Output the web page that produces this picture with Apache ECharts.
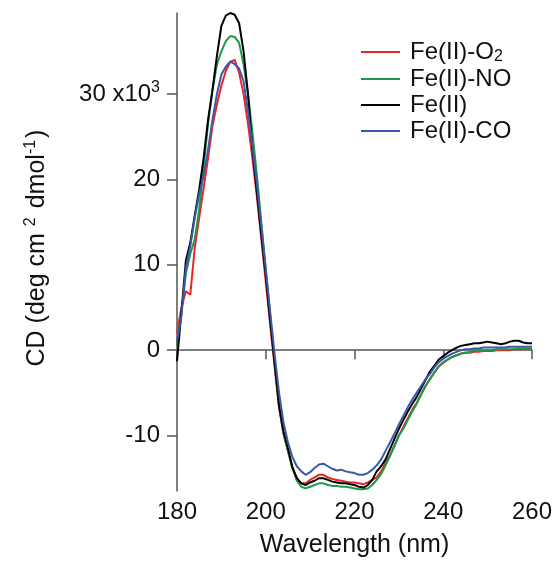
<!DOCTYPE html>
<html>
<head>
<meta charset="utf-8">
<script src="https://cdn.jsdelivr.net/npm/echarts@6/dist/echarts.min.js"></script>
<style>html,body{margin:0;padding:0;background:#fff}#c{width:559px;height:571px}</style>
</head>
<body>
<div id="c"></div>
<script>
// Wavelength (nm)
var wavelength = [180,181,182,183,184,185,186,187,188,189,190,191,192,193,194,195,196,197,198,199,
200,201,202,203,204,205,206,207,208,209,210,211,212,213,214,215,216,217,218,219,
220,221,222,223,224,225,226,227,228,229,230,231,232,233,234,235,236,237,238,239,
240,241,242,243,244,245,246,247,248,249,250,251,252,253,254,255,256,257,258,259,260];

// CD (x10^3 deg cm^2 dmol^-1)
var feO2 = [2.0,5.0,6.9,6.5,12.0,15.5,19.0,22.5,26.3,28.8,31.0,32.7,33.8,34.0,32.5,30.0,26.5,22.5,18.0,13.0,
8.0,3.0,-2.0,-6.8,-9.8,-11.8,-13.8,-15.0,-15.6,-15.6,-15.2,-14.9,-14.6,-14.6,-14.9,-15.1,-15.2,-15.3,-15.4,-15.5,
-15.5,-15.6,-15.7,-15.5,-15.2,-14.9,-14.2,-13.2,-12.3,-11.2,-10.0,-9.0,-8.0,-7.0,-6.2,-5.2,-4.2,-3.4,-2.6,-1.9,
-1.5,-1.1,-0.8,-0.6,-0.4,-0.3,-0.3,-0.2,-0.2,-0.1,-0.1,-0.1,0.0,0.0,0.0,0.0,0.1,0.1,0.1,0.1,0.1];

var feNO = [0.5,4.5,9.0,11.3,13.0,16.5,21.5,26.5,30.5,33.5,35.0,36.2,36.8,36.7,36.0,33.5,30.0,25.5,20.5,15.0,
9.5,4.0,-1.5,-6.5,-9.8,-11.8,-13.8,-15.3,-16.0,-16.2,-16.0,-15.8,-15.6,-15.6,-15.8,-15.9,-15.9,-16.0,-16.0,-16.1,
-16.2,-16.3,-16.3,-16.2,-15.8,-15.2,-14.5,-13.5,-12.4,-11.2,-10.0,-9.2,-8.2,-7.2,-6.3,-5.2,-4.2,-3.4,-2.6,-1.9,
-1.4,-1.1,-0.8,-0.6,-0.4,-0.3,-0.2,-0.1,-0.1,0.0,0.0,0.0,0.1,0.1,0.1,0.1,0.1,0.2,0.2,0.2,0.2];

var feII = [-1.3,4.5,10.5,12.6,15.8,18.8,22.5,27.0,30.5,34.5,38.0,39.2,39.5,39.3,38.3,35.0,30.0,23.5,18.5,13.5,
8.8,3.5,-1.5,-6.5,-9.5,-11.5,-13.7,-15.0,-15.6,-15.8,-15.5,-15.3,-15.0,-15.0,-15.2,-15.4,-15.5,-15.6,-15.6,-15.7,
-15.8,-16.0,-16.1,-15.8,-15.2,-14.2,-13.6,-12.8,-11.6,-10.4,-9.2,-8.2,-7.2,-6.3,-5.5,-4.5,-3.5,-2.5,-1.8,-1.1,
-0.7,-0.3,0.0,0.3,0.5,0.6,0.7,0.8,0.8,0.9,1.0,0.9,0.8,0.7,0.8,1.0,1.1,1.1,0.9,0.8,0.8];

var feCO = [1.0,4.0,9.6,12.2,15.5,18.3,20.4,23.5,27.0,30.0,32.3,33.2,33.8,33.5,33.0,31.5,28.0,23.9,19.5,14.5,
9.5,4.5,-0.5,-5.0,-8.5,-10.8,-12.5,-13.6,-14.2,-14.6,-14.3,-13.8,-13.4,-13.3,-13.6,-13.9,-14.1,-14.0,-14.2,-14.3,
-14.4,-14.6,-14.6,-14.4,-14.0,-13.5,-12.8,-11.8,-10.8,-9.8,-8.7,-7.7,-6.7,-5.8,-5.0,-4.2,-3.4,-2.8,-2.0,-1.4,
-1.0,-0.7,-0.4,-0.2,0.0,0.1,0.1,0.2,0.2,0.3,0.3,0.3,0.3,0.3,0.3,0.4,0.4,0.4,0.4,0.4,0.4];

var seriesNames = ['Fe(II)-O2','Fe(II)-NO','Fe(II)','Fe(II)-CO'];
var seriesValues = [feO2, feNO, feII, feCO];
var seriesColors = ['#e8262a','#1a9a4a','#000000','#3c58a8'];
var xTicks = [180,200,220,240,260];
var yTicks = [-10,0,10,20,30];

var FONT = '"Liberation Sans", Arial, sans-serif';
var chart = echarts.init(document.getElementById('c'), null, {renderer:'canvas'});

function pairs(vals){ return wavelength.map(function(w,i){ return [w, vals[i]]; }); }

var option = {
  animation: false,
  backgroundColor: '#fff',
  grid: {left: 177, right: 27, top: 13, bottom: 80, containLabel: false},
  legend: {
    orient: 'vertical', left: 356, top: 35,
    itemWidth: 39, itemHeight: 14, itemGap: 2,
    icon: 'path://M0,6 L40,6 L40,8 L0,8 Z',
    textStyle: {
      fontFamily: FONT, fontSize: 24, color: '#111', padding: [0,0,0,5],
      rich: {
        b: {fontFamily: FONT, fontSize: 24, color: '#111'},
        sub: {fontFamily: FONT, fontSize: 16, color: '#111', verticalAlign: 'bottom', padding:[10,0,0,0]}
      }
    },
    formatter: function(n){ return n === 'Fe(II)-O2' ? '{b|Fe(II)-O}{sub|2}' : n; },
    data: seriesNames
  },
  xAxis: {
    type: 'value', min: 180, max: 260, interval: 20,
    name: 'Wavelength (nm)', nameLocation: 'middle', nameGap: 42,
    nameTextStyle: {fontFamily: FONT, fontSize: 25, color: '#111'},
    axisLine: {show: true, lineStyle: {color: '#555', width: 1.5}},
    axisTick: {show: true, inside: false, length: 9, lineStyle: {color: '#555', width: 1.5}},
    axisLabel: {fontFamily: FONT, fontSize: 24, color: '#111', margin: 9},
    splitLine: {show: false}
  },
  yAxis: {
    type: 'value', min: -16.5, max: 39.5,
    name: 'CD (deg cm {sup|2} dmol{sup|-1})', nameLocation: 'middle', nameGap: 126, nameRotate: 90,
    nameTextStyle: {
      fontFamily: FONT, fontSize: 25, color: '#111', padding: [0,0,0,8],
      rich: {sup: {fontFamily: FONT, fontSize: 16, color: '#111', verticalAlign: 'top', padding:[0,2,12,0]}}
    },
    axisLine: {show: true, onZero: false, lineStyle: {color: '#555', width: 1.5}},
    axisTick: {show: true, inside: false, length: 10, customValues: yTicks, lineStyle: {color: '#555', width: 1.5}},
    axisLabel: {
      fontFamily: FONT, fontSize: 24, color: '#111', margin: 17, customValues: yTicks,
      formatter: function(v){ return v === 30 ? '30 x10{sup|3}' : String(v); },
      rich: {sup: {fontFamily: FONT, fontSize: 16, color: '#111', verticalAlign: 'top', padding:[0,0,12,0]}}
    },
    splitLine: {show: false}
  },
  series: seriesNames.map(function(n, i){
    return {
      name: n, type: 'line', data: pairs(seriesValues[i]),
      showSymbol: false, symbol: 'none', smooth: false,
      lineStyle: {color: seriesColors[i], width: 2},
      itemStyle: {color: seriesColors[i]},
      z: 2 + i
    };
  })
};
chart.setOption(option);
</script>
</body>
</html>
